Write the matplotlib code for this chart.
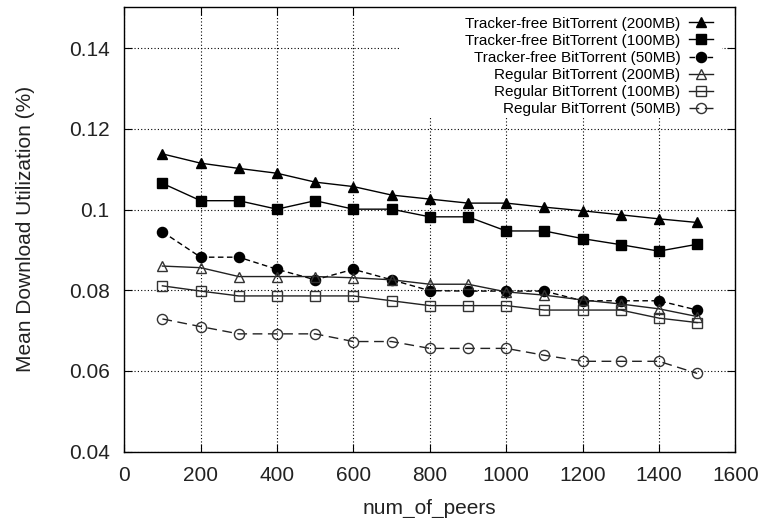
import matplotlib
matplotlib.use("Agg")
import matplotlib.pyplot as plt
from matplotlib.patches import Rectangle

plt.rcParams['font.family'] = ['Liberation Sans', 'DejaVu Sans']

peers = [100, 200, 300, 400, 500, 600, 700, 800, 900, 1000, 1100, 1200, 1300, 1400, 1500]

tf_200 = [0.1138, 0.1115, 0.1102, 0.1090, 0.1068, 0.1057, 0.1036, 0.1026, 0.1016, 0.1016,
          0.1006, 0.0997, 0.0987, 0.0977, 0.0968]
tf_100 = [0.1065, 0.1022, 0.1022, 0.1001, 0.1022, 0.1001, 0.1001, 0.0982, 0.0982, 0.0947,
          0.0947, 0.0928, 0.0913, 0.0897, 0.0914]
tf_50 = [0.0945, 0.0882, 0.0882, 0.0852, 0.0826, 0.0852, 0.0826, 0.0799, 0.0798, 0.0798,
         0.0798, 0.0774, 0.0774, 0.0774, 0.0751]
rg_200 = [0.0860, 0.0856, 0.0834, 0.0834, 0.0834, 0.0831, 0.0826, 0.0815, 0.0815, 0.0796,
          0.0788, 0.0776, 0.0766, 0.0754, 0.0735]
rg_100 = [0.0811, 0.0798, 0.0786, 0.0786, 0.0786, 0.0786, 0.0774, 0.0762, 0.0762, 0.0762,
          0.0751, 0.0751, 0.0751, 0.0731, 0.0720]
rg_50 = [0.0729, 0.0710, 0.0692, 0.0692, 0.0692, 0.0673, 0.0673, 0.0656, 0.0656, 0.0656,
         0.0639, 0.0624, 0.0624, 0.0624, 0.0594]

labels = ["Tracker-free BitTorrent (200MB)", "Tracker-free BitTorrent (100MB)",
          "Tracker-free BitTorrent (50MB)", "Regular BitTorrent (200MB)",
          "Regular BitTorrent (100MB)", "Regular BitTorrent (50MB)"]

x_ticks = [0, 200, 400, 600, 800, 1000, 1200, 1400, 1600]
y_ticks = [0.04, 0.06, 0.08, 0.1, 0.12, 0.14]
y_tick_labels = ["0.04", "0.06", "0.08", "0.1", "0.12", "0.14"]

fig = plt.figure(figsize=(7.62, 5.18), dpi=100)
ax = fig.add_axes([0.163, 0.128, 0.802, 0.8585])

k = dict(color='black', lw=1.0, zorder=3)
ax.plot(peers, tf_200, marker='^', ms=6.5, mfc='black', mec='black', ls='-', label=labels[0], **k)
ax.plot(peers, tf_100, marker='s', ms=7.5, mfc='black', mec='black', ls='-', label=labels[1], **k)
ax.plot(peers, tf_50, marker='o', ms=7.3, mfc='black', mec='black', ls=(0, (4, 2.5)), label=labels[2], **k)
k2 = dict(color='#222222', lw=1.0, zorder=3)
ax.plot(peers, rg_200, marker='^', ms=7, mfc='none', mec='#333333', ls='-', label=labels[3], **k2)
ax.plot(peers, rg_100, marker='s', ms=7.5, mfc='none', mec='#333333', ls='-', label=labels[4], **k2)
ax.plot(peers, rg_50, marker='o', ms=7.3, mfc='none', mec='#333333', ls=(0, (7, 4)), label=labels[5], **k2)

ax.set_xlim(0, 1600)
ax.set_ylim(0.04, 0.1502)
ax.set_xticks(x_ticks)
ax.set_xticklabels([str(v) for v in x_ticks])
ax.set_yticks(y_ticks)
ax.set_yticklabels(y_tick_labels)
ax.tick_params(direction='in', length=5.5, width=0.8, top=True, right=True,
               labelsize=15, colors='black', labelcolor='#222222', pad=10.5)
ax.set_axisbelow(True)
ax.grid(True, color='black', ls=(0, (1, 2)), lw=0.8, zorder=0.5)
for s in ax.spines.values():
    s.set_linewidth(1.0)

ax.set_xlabel("num_of_peers", fontsize=15, labelpad=10, color='#222222')
ax.set_ylabel("Mean Download Utilization (%)", fontsize=15, labelpad=24, color='#222222')

ax.add_patch(Rectangle((0.452, 0.75), 0.527, 0.26, transform=ax.transAxes,
                       facecolor='white', edgecolor='none', zorder=1, clip_on=False))

leg = ax.legend(loc='upper right', bbox_to_anchor=(0.964, 0.978), frameon=False,
                markerfirst=False, fontsize=11, handlelength=1.6, handletextpad=0.55,
                labelspacing=0.2, borderpad=0, borderaxespad=0)
leg.set_zorder(4)

fig.savefig("out.png", dpi=100)
